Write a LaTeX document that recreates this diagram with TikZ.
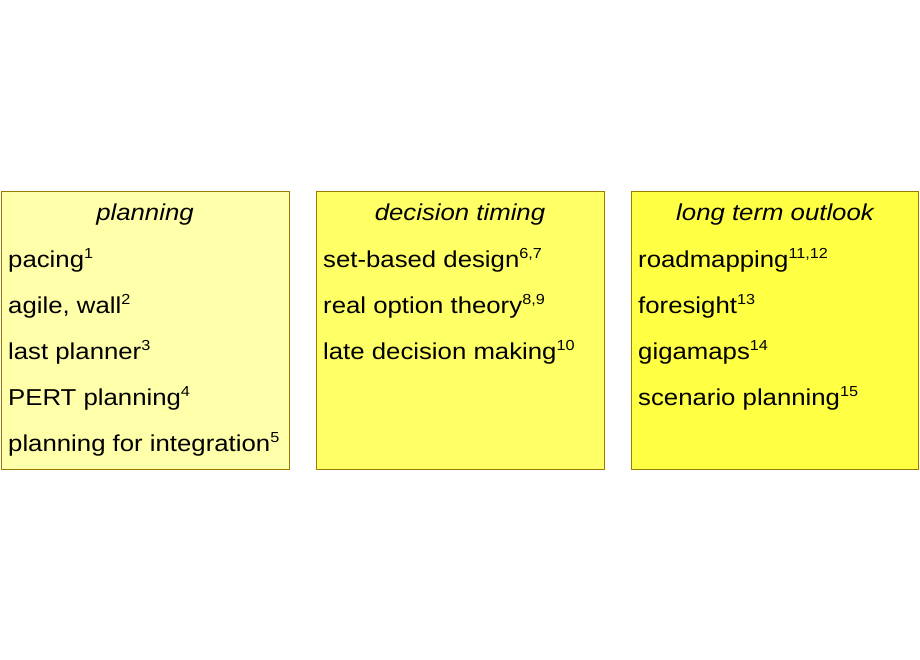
\documentclass[tikz,border=0pt]{standalone}
\usepackage{fontspec}
\setmainfont{Liberation Sans}[FakeStretch=1.12]
\newcommand{\refnum}[1]{\raisebox{8.5pt}{\fontsize{14.5}{15}\selectfont #1}}
\begin{document}
\begin{tikzpicture}[x=1pt,y=-1pt,
  card/.style={draw=bordercol,line width=0.8pt},
  ttl/.style={anchor=base,font=\fontsize{23}{27}\selectfont\itshape,inner sep=0pt},
  itm/.style={anchor=base west,font=\fontsize{23}{27}\selectfont,inner sep=0pt}]
\definecolor{bordercol}{HTML}{9C7A00}
\definecolor{c1}{HTML}{FFFFAA}
\definecolor{c2}{HTML}{FFFF66}
\definecolor{c3}{HTML}{FFFF44}
\useasboundingbox (0,0) rectangle (920,660);
\fill[white] (0,0) rectangle (920,660);
\draw[card,fill=c1] (1.5,191.5) rectangle (289.5,469.5);
\draw[card,fill=c2] (316.5,191.5) rectangle (604.5,469.5);
\draw[card,fill=c3] (631.5,191.5) rectangle (918.5,469.5);
\node[ttl] (t1) at (145,221) {planning};
\node[ttl] (t2) at (460,221) {decision timing};
\node[ttl] (t3) at (775,221) {long term outlook};
\node[itm] (a1) at (8,267) {pacing\refnum{1}};
\node[itm] (a2) at (8,313) {agile, wall\refnum{2}};
\node[itm] (a3) at (8,359) {last planner\refnum{3}};
\node[itm] (a4) at (8,405) {PERT planning\refnum{4}};
\node[itm] (a5) at (8,451) {planning for integration\refnum{5}};
\node[itm] (b1) at (323,267) {set-based design\refnum{6,7}};
\node[itm] (b2) at (323,313) {real option theory\refnum{8,9}};
\node[itm] (b3) at (323,359) {late decision making\refnum{10}};
\node[itm] (c1n) at (638,267) {roadmapping\refnum{11,12}};
\node[itm] (c2n) at (638,313) {foresight\refnum{13}};
\node[itm] (c3n) at (638,359) {gigamaps\refnum{14}};
\node[itm] (c4n) at (638,405) {scenario planning\refnum{15}};
\end{tikzpicture}
\end{document}
